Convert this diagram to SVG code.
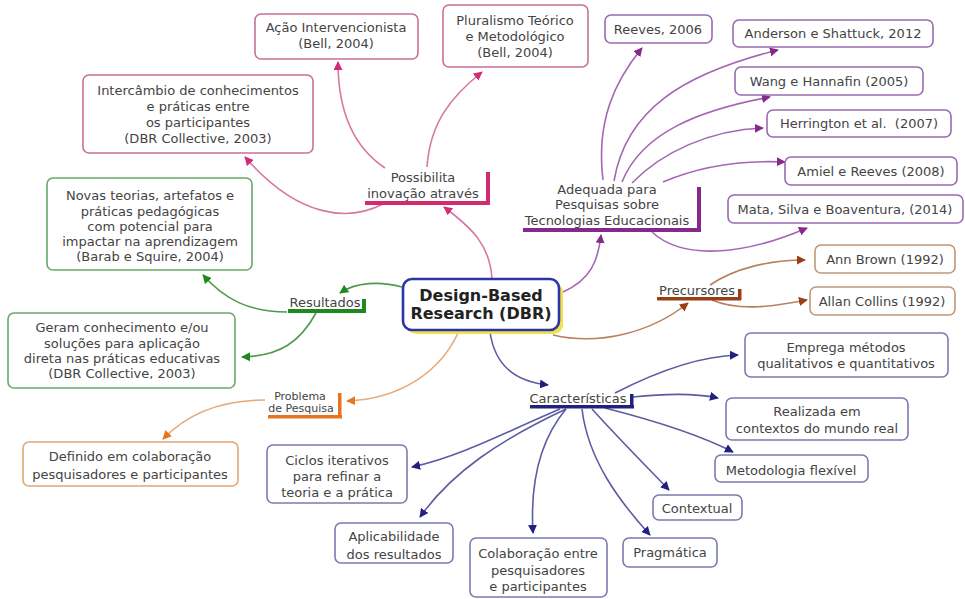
<svg xmlns="http://www.w3.org/2000/svg" width="965" height="599" viewBox="0 0 965 599">
<style>
text{font-family:"DejaVu Sans","Verdana",sans-serif;font-size:13px;fill:#444;text-anchor:middle}
.box{fill:#fff;stroke-width:1.6}
.pk{stroke:#c8709a}.pu{stroke:#9a6ab0}.gr{stroke:#6aa86a}.or{stroke:#e0a878}.bl{stroke:#7a7ab0}.br{stroke:#c09878}
.c{fill:none;stroke-width:1.6}
.cpk{stroke:#d8789e}.cpu{stroke:#a466b4}.cgr{stroke:#4e9a4e}.cor{stroke:#e6aa7a}.cbl{stroke:#5c5ca4}.cbr{stroke:#b8805e}
.dbr{font-weight:bold;font-size:16px;fill:#222}
.sm{font-size:11px}
</style>
<defs>
<marker id="mpk" viewBox="0 0 10 10" refX="9" refY="5" markerWidth="9" markerHeight="9" markerUnits="userSpaceOnUse" orient="auto"><path d="M0,0 L10,5 L0,10 z" fill="#d42a78"/></marker>
<marker id="mpu" viewBox="0 0 10 10" refX="9" refY="5" markerWidth="9" markerHeight="9" markerUnits="userSpaceOnUse" orient="auto"><path d="M0,0 L10,5 L0,10 z" fill="#86288c"/></marker>
<marker id="mgr" viewBox="0 0 10 10" refX="9" refY="5" markerWidth="9" markerHeight="9" markerUnits="userSpaceOnUse" orient="auto"><path d="M0,0 L10,5 L0,10 z" fill="#1e8a1e"/></marker>
<marker id="mor" viewBox="0 0 10 10" refX="9" refY="5" markerWidth="9" markerHeight="9" markerUnits="userSpaceOnUse" orient="auto"><path d="M0,0 L10,5 L0,10 z" fill="#e8741e"/></marker>
<marker id="mbl" viewBox="0 0 10 10" refX="9" refY="5" markerWidth="9" markerHeight="9" markerUnits="userSpaceOnUse" orient="auto"><path d="M0,0 L10,5 L0,10 z" fill="#22227e"/></marker>
<marker id="mbr" viewBox="0 0 10 10" refX="9" refY="5" markerWidth="9" markerHeight="9" markerUnits="userSpaceOnUse" orient="auto"><path d="M0,0 L10,5 L0,10 z" fill="#9a3e16"/></marker>
</defs>
<rect width="965" height="599" fill="#fff"/>

<g id="connectors">
<!-- pink -->
<path class="c cpk" d="M492,279 C490,245 472,228 444,207" marker-end="url(#mpk)"/>
<path class="c cpk" d="M385,168 C352,146 338,110 338,62" marker-end="url(#mpk)"/>
<path class="c cpk" d="M427,167 C430,122 452,96 482,72" marker-end="url(#mpk)"/>
<path class="c cpk" d="M383,204 C348,222 298,218 245,157" marker-end="url(#mpk)"/>
<!-- purple -->
<path class="c cpu" d="M563,292 C590,280 598,262 601,235" marker-end="url(#mpu)"/>
<path class="c cpu" d="M603,180 C596,122 614,82 642,48" marker-end="url(#mpu)"/>
<path class="c cpu" d="M614,181 C626,110 682,74 778,50" marker-end="url(#mpu)"/>
<path class="c cpu" d="M622,182 C642,132 700,110 770,97" marker-end="url(#mpu)"/>
<path class="c cpu" d="M632,183 C662,152 710,130 763,128" marker-end="url(#mpu)"/>
<path class="c cpu" d="M663,182 C700,166 740,160 785,162" marker-end="url(#mpu)"/>
<path class="c cpu" d="M652,232 C682,260 742,256 807,228" marker-end="url(#mpu)"/>
<!-- brown -->
<path class="c cbr" d="M553,335 C600,346 652,332 688,303" marker-end="url(#mbr)"/>
<path class="c cbr" d="M710,285 C735,268 770,260 805,260" marker-end="url(#mbr)"/>
<path class="c cbr" d="M712,300 C740,312 775,306 807,300" marker-end="url(#mbr)"/>
<!-- green -->
<path class="c cgr" d="M402,287 C380,281 356,282 340,293" marker-end="url(#mgr)"/>
<path class="c cgr" d="M287,312 C250,312 225,300 203,275" marker-end="url(#mgr)"/>
<path class="c cgr" d="M316,313 C300,342 280,356 242,357" marker-end="url(#mgr)"/>
<!-- orange -->
<path class="c cor" d="M458,333 C440,372 400,399 347,401" marker-end="url(#mor)"/>
<path class="c cor" d="M265,400 C220,400 186,415 163,439" marker-end="url(#mor)"/>
<!-- blue -->
<path class="c cbl" d="M490,332 C495,366 515,381 548,385" marker-end="url(#mbl)"/>
<path class="c cbl" d="M615,393 C660,370 700,356 738,355" marker-end="url(#mbl)"/>
<path class="c cbl" d="M633,397 C670,393 695,393 718,398" marker-end="url(#mbl)"/>
<path class="c cbl" d="M605,408 C652,420 700,435 733,452" marker-end="url(#mbl)"/>
<path class="c cbl" d="M592,409 C620,440 648,468 669,490" marker-end="url(#mbl)"/>
<path class="c cbl" d="M582,409 C588,460 620,502 650,535" marker-end="url(#mbl)"/>
<path class="c cbl" d="M566,409 C540,440 530,482 533,533" marker-end="url(#mbl)"/>
<path class="c cbl" d="M566,409 C500,440 452,472 420,517" marker-end="url(#mbl)"/>
<path class="c cbl" d="M560,409 C510,430 462,456 412,467" marker-end="url(#mbl)"/>
</g>

<g id="dbr">
<rect x="407" y="283" width="156" height="51" rx="9" fill="#f2e24a"/>
<rect x="403" y="279" width="156" height="51" rx="9" fill="#fff" stroke="#2a36a8" stroke-width="2.6"/>
<text class="dbr" x="481" y="301">Design-Based</text>
<text class="dbr" x="481" y="319">Research (DBR)</text>
</g>

<!-- pink -->
<g id="possibilita">
<rect x="365" y="201" width="125" height="4" fill="#d42a6e"/>
<rect x="486" y="172" width="4" height="33" fill="#d42a6e"/>
<text x="423" y="182">Possibilita</text>
<text x="423" y="198">inovação através</text>
</g>
<g id="acao">
<rect class="box pk" x="255" y="14" width="163" height="45" rx="6"/>
<text x="336" y="32">Ação Intervencionista</text>
<text x="336" y="48">(Bell, 2004)</text>
</g>
<g id="pluralismo">
<rect class="box pk" x="443" y="5" width="145" height="62" rx="6"/>
<text x="515" y="25">Pluralismo Teórico</text>
<text x="515" y="41">e Metodológico</text>
<text x="515" y="57">(Bell, 2004)</text>
</g>
<g id="intercambio">
<rect class="box pk" x="83" y="75" width="230" height="78" rx="6"/>
<text x="198" y="95">Intercâmbio de conhecimentos</text>
<text x="198" y="111">e práticas entre</text>
<text x="198" y="127">os participantes</text>
<text x="198" y="143">(DBR Collective, 2003)</text>
</g>

<!-- purple -->
<g id="adequada">
<rect x="523" y="228" width="178" height="4" fill="#86288c"/>
<rect x="697" y="187" width="4" height="45" fill="#86288c"/>
<text x="607" y="194">Adequada para</text>
<text x="607" y="209">Pesquisas sobre</text>
<text x="607" y="225">Tecnologias Educacionais</text>
</g>
<g id="reeves">
<rect class="box pu" x="605" y="15" width="107" height="28" rx="6"/>
<text x="658" y="34">Reeves, 2006</text>
</g>
<g id="anderson">
<rect class="box pu" x="733" y="20" width="200" height="27" rx="6"/>
<text x="833" y="38">Anderson e Shattuck, 2012</text>
</g>
<g id="wang">
<rect class="box pu" x="735" y="67" width="188" height="28" rx="6"/>
<text x="829" y="86">Wang e Hannafin (2005)</text>
</g>
<g id="herrington">
<rect class="box pu" x="767" y="110" width="184" height="27" rx="6"/>
<text x="859" y="128" xml:space="preserve">Herrington et al.  (2007)</text>
</g>
<g id="amiel">
<rect class="box pu" x="785" y="157" width="172" height="28" rx="6"/>
<text x="871" y="176">Amiel e Reeves (2008)</text>
</g>
<g id="mata">
<rect class="box pu" x="728" y="195" width="235" height="28" rx="6"/>
<text x="845" y="214">Mata, Silva e Boaventura, (2014)</text>
</g>

<!-- brown -->
<g id="precursores">
<rect x="657" y="297" width="84" height="3.5" fill="#9a3e16"/>
<rect x="738" y="289" width="3.5" height="11" fill="#9a3e16"/>
<text x="697" y="295">Precursores</text>
</g>
<g id="annbrown">
<rect class="box br" x="815" y="245" width="140" height="28" rx="6"/>
<text x="885" y="264">Ann Brown (1992)</text>
</g>
<g id="allancollins">
<rect class="box br" x="810" y="287" width="145" height="28" rx="6"/>
<text x="882" y="306">Allan Collins (1992)</text>
</g>

<!-- green -->
<g id="resultados">
<rect x="288" y="309" width="78" height="4" fill="#1e8a1e"/>
<rect x="362" y="299" width="4" height="14" fill="#1e8a1e"/>
<text x="325" y="307">Resultados</text>
</g>
<g id="novas">
<rect class="box gr" x="47" y="178" width="205" height="92" rx="6"/>
<text x="150" y="200">Novas teorias, artefatos e</text>
<text x="150" y="216">práticas pedagógicas</text>
<text x="150" y="231">com potencial para</text>
<text x="150" y="246">impactar na aprendizagem</text>
<text x="150" y="261">(Barab e Squire, 2004)</text>
</g>
<g id="geram">
<rect class="box gr" x="8" y="313" width="227" height="75" rx="6"/>
<text x="122" y="332">Geram conhecimento e/ou</text>
<text x="122" y="348">soluções para aplicação</text>
<text x="122" y="363">direta nas práticas educativas</text>
<text x="122" y="378">(DBR Collective, 2003)</text>
</g>

<!-- orange -->
<g id="problema">
<rect x="268" y="415" width="74" height="3.5" fill="#e8741e"/>
<rect x="338" y="393" width="3.5" height="25" fill="#e8741e"/>
<text class="sm" x="300" y="400">Problema</text>
<text class="sm" x="301" y="412">de Pesquisa</text>
</g>
<g id="definido">
<rect class="box or" x="23" y="442" width="215" height="44" rx="6"/>
<text x="130" y="461">Definido em colaboração</text>
<text x="130" y="479">pesquisadores e participantes</text>
</g>

<!-- blue -->
<g id="caracteristicas">
<rect x="530" y="405" width="104" height="3.5" fill="#22227e"/>
<rect x="630" y="394" width="3.5" height="14" fill="#22227e"/>
<text x="578" y="403">Características</text>
</g>
<g id="emprega">
<rect class="box bl" x="745" y="333" width="203" height="44" rx="6"/>
<text x="846" y="352">Emprega métodos</text>
<text x="846" y="368">qualitativos e quantitativos</text>
</g>
<g id="realizada">
<rect class="box bl" x="726" y="398" width="182" height="42" rx="6"/>
<text x="817" y="416">Realizada em</text>
<text x="817" y="433">contextos do mundo real</text>
</g>
<g id="metodologia">
<rect class="box bl" x="715" y="455" width="153" height="27" rx="6"/>
<text x="791" y="475">Metodologia flexível</text>
</g>
<g id="contextual">
<rect class="box bl" x="653" y="495" width="89" height="25" rx="6"/>
<text x="697" y="513">Contextual</text>
</g>
<g id="pragmatica">
<rect class="box bl" x="623" y="538" width="94" height="29" rx="6"/>
<text x="670" y="557">Pragmática</text>
</g>
<g id="colaboracao">
<rect class="box bl" x="470" y="538" width="137" height="59" rx="6"/>
<text x="538" y="558">Colaboração entre</text>
<text x="538" y="575">pesquisadores</text>
<text x="538" y="591">e participantes</text>
</g>
<g id="aplicabilidade">
<rect class="box bl" x="335" y="523" width="118" height="40" rx="6"/>
<text x="394" y="541">Aplicabilidade</text>
<text x="394" y="559">dos resultados</text>
</g>
<g id="ciclos">
<rect class="box bl" x="267" y="445" width="140" height="58" rx="6"/>
<text x="337" y="465">Ciclos iterativos</text>
<text x="337" y="481">para refinar a</text>
<text x="337" y="497">teoria e a prática</text>
</g>
</svg>
